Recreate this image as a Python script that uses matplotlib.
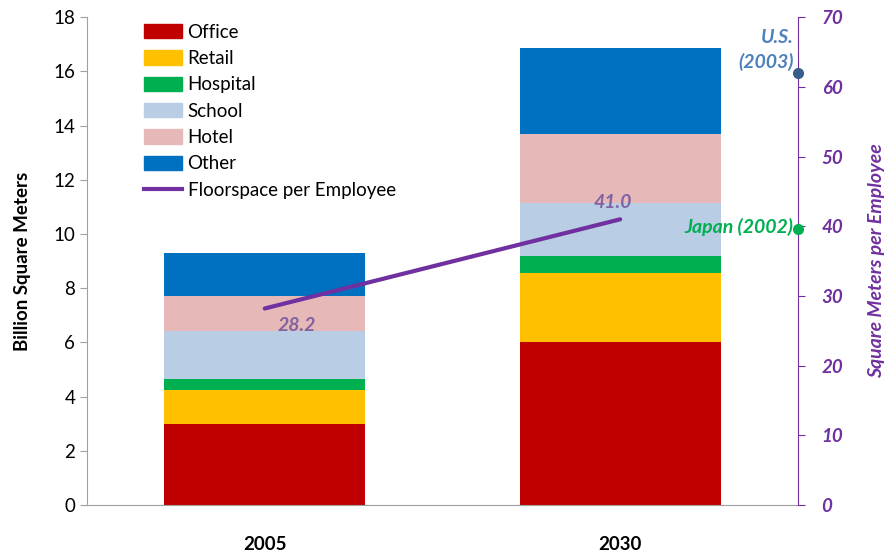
import numpy as np
import matplotlib.pyplot as plt
from matplotlib.patches import Patch
from matplotlib.lines import Line2D

plt.rcParams['font.family'] = ['Lato', 'DejaVu Sans']

years = ["2005", "2030"]
categories = ["Office", "Retail", "Hospital", "School", "Hotel", "Other"]
colors = ["#C00000", "#FFC000", "#00B050", "#B9CDE5", "#E6B9B8", "#0070C0"]
values = {
    "Office":   [2.98, 6.00],
    "Retail":   [1.26, 2.55],
    "Hospital": [0.41, 0.65],
    "School":   [1.78, 1.95],
    "Hotel":    [1.28, 2.55],
    "Other":    [1.60, 3.16],
}
per_employee = [28.2, 41.0]
benchmarks = ["U.S.\n(2003)", "Japan (2002)"]
benchmark_vals = [62.0, 39.6]
benchmark_colors = ["#4F81BD", "#00B050"]
benchmark_marker_colors = ["#385D8A", "#00B050"]

purple = "#7030A0"
label_purple = "#8064A2"

fig = plt.figure(figsize=(8.84, 5.54), dpi=100)
ax = fig.add_axes([0.0984, 0.0884, 0.8043, 0.8806])
x = np.arange(len(years))

bottom = np.zeros(len(years))
for cat, col in zip(categories, colors):
    v = np.array(values[cat])
    ax.bar(x, v, 0.565, bottom=bottom, color=col, label=cat)
    bottom += v

ax.set_xlim(-0.5, 1.5)
ax.set_ylim(0, 18)
ax.set_yticks(np.arange(0, 19, 2))
ax.set_xticks(x)
ax.set_xticklabels(years, fontsize=13.5, fontweight="bold")
ax.tick_params(axis="x", length=0, pad=22)
ax.tick_params(axis="y", labelsize=13.5, direction="out", length=5, color="#A0A0A0")
ax.set_ylabel("Billion Square Meters", fontsize=13.5, fontweight="bold", labelpad=16)
for s in ["top", "right"]:
    ax.spines[s].set_visible(False)
ax.spines["left"].set_color("#A0A0A0")
ax.spines["bottom"].set_color("#A0A0A0")

ax2 = ax.twinx()
ax2.set_ylim(0, 70)
ax2.set_yticks(np.arange(0, 71, 10))
ax2.plot(x, per_employee, color=purple, lw=3, solid_capstyle="round")
ax2.text(x[0] + 0.09, per_employee[0] - 1.2, "28.2", color=label_purple, fontsize=14,
         fontweight="bold", style="italic", ha="center", va="top")
ax2.text(x[1] - 0.02, per_employee[1] + 1.2, "41.0", color=label_purple, fontsize=14,
         fontweight="bold", style="italic", ha="center", va="bottom")
for name, val, tc, mc in zip(benchmarks, benchmark_vals, benchmark_colors, benchmark_marker_colors):
    ax2.plot([1.5], [val], "o", color=mc, ms=7, clip_on=False, zorder=5)
    ax2.text(1.488, val + 0.3, name, color=tc, fontsize=14, fontweight="bold",
             style="italic", ha="right", va="bottom" if "\n" in name else "center",
             linespacing=1.45)
for s in ["top", "left", "bottom"]:
    ax2.spines[s].set_visible(False)
ax2.spines["right"].set_color(purple)
ax2.tick_params(axis="y", colors=purple, direction="out", length=5, labelsize=13.5, pad=12)
for t in ax2.get_yticklabels():
    t.set_fontweight("bold")
    t.set_fontstyle("italic")
ax2.set_ylabel("Square Meters per Employee", color=purple, fontsize=14,
               fontweight="bold", style="italic", labelpad=18)

handles = [Patch(color=c, label=n) for n, c in zip(categories, colors)]
handles.append(Line2D([0], [0], color=purple, lw=3, label="Floorspace per Employee"))
ax.legend(handles=handles, loc="upper left", bbox_to_anchor=(0.065, 1.01), frameon=False,
          fontsize=13.5, handlelength=2.0, handleheight=0.8, labelspacing=0.5,
          handletextpad=0.3, borderaxespad=0.2)

fig.savefig("out.png", dpi=100)
